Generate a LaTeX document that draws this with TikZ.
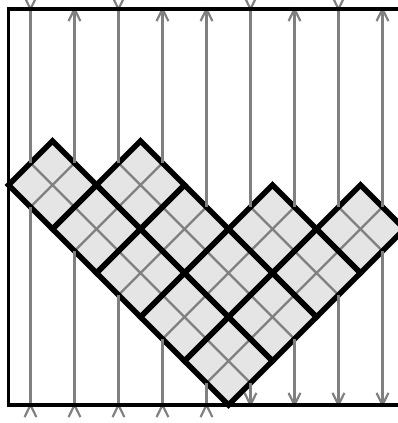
\documentclass[tikz,border=0pt]{standalone}
\usepackage{tikz}
\begin{document}
\begin{tikzpicture}[x=0.5cm,y=0.5cm,
  strand/.style={gray,line width=1.4pt},
  tilefill/.style={fill=black!10},
  tileedge/.style={draw=black,line width=3.5pt,line join=miter},
  frame/.style={draw=black,line width=2.1pt}]
\useasboundingbox (-0.386,-0.818) rectangle (17.66,18.41);
% tile centres
\def\tiles{2/10,4/8,6/10,6/6,8/8,8/4,10/6,12/8,10/2,12/4,14/6,16/8}
\foreach \cx/\cy in \tiles {
   \fill[tilefill] (\cx-2,\cy) -- (\cx,\cy+2) -- (\cx+2,\cy) -- (\cx,\cy-2) -- cycle;
}
\foreach \cx/\cy in \tiles {
   \draw[strand] (\cx-1,\cy-1) -- (\cx+1,\cy+1);
   \draw[strand] (\cx-1,\cy+1) -- (\cx+1,\cy-1);
}
\foreach \cx/\cy in \tiles {
   \draw[tileedge] (\cx-2,\cy) -- (\cx,\cy+2) -- (\cx+2,\cy) -- (\cx,\cy-2) -- cycle;
}
% strands above and below the tiles
\foreach \x/\t/\b in %
{1/11/9,3/11/7,5/11/5,7/11/3,9/9/1,11/9/1,13/9/3,15/9/5,17/9/7} {
   \draw[strand] (\x,18) -- (\x,\t);
   \draw[strand] (\x,0) -- (\x,\b);
}
% heads on the frame
\foreach \x in {1,5,11,15}
   \draw[strand] (\x-0.27,18.55) -- (\x,18) -- (\x+0.27,18.55);
\foreach \x in {3,7,9,13,17}
   \draw[strand] (\x-0.27,17.45) -- (\x,18) -- (\x+0.27,17.45);
\foreach \x in {1,3,5,7,9}
   \draw[strand] (\x-0.27,-0.55) -- (\x,0) -- (\x+0.27,-0.55);
\foreach \x in {11,13,15,17}
   \draw[strand] (\x-0.27,0.55) -- (\x,0) -- (\x+0.27,0.55);
\draw[frame] (0,0) rectangle (18,18);
\end{tikzpicture}
\end{document}
